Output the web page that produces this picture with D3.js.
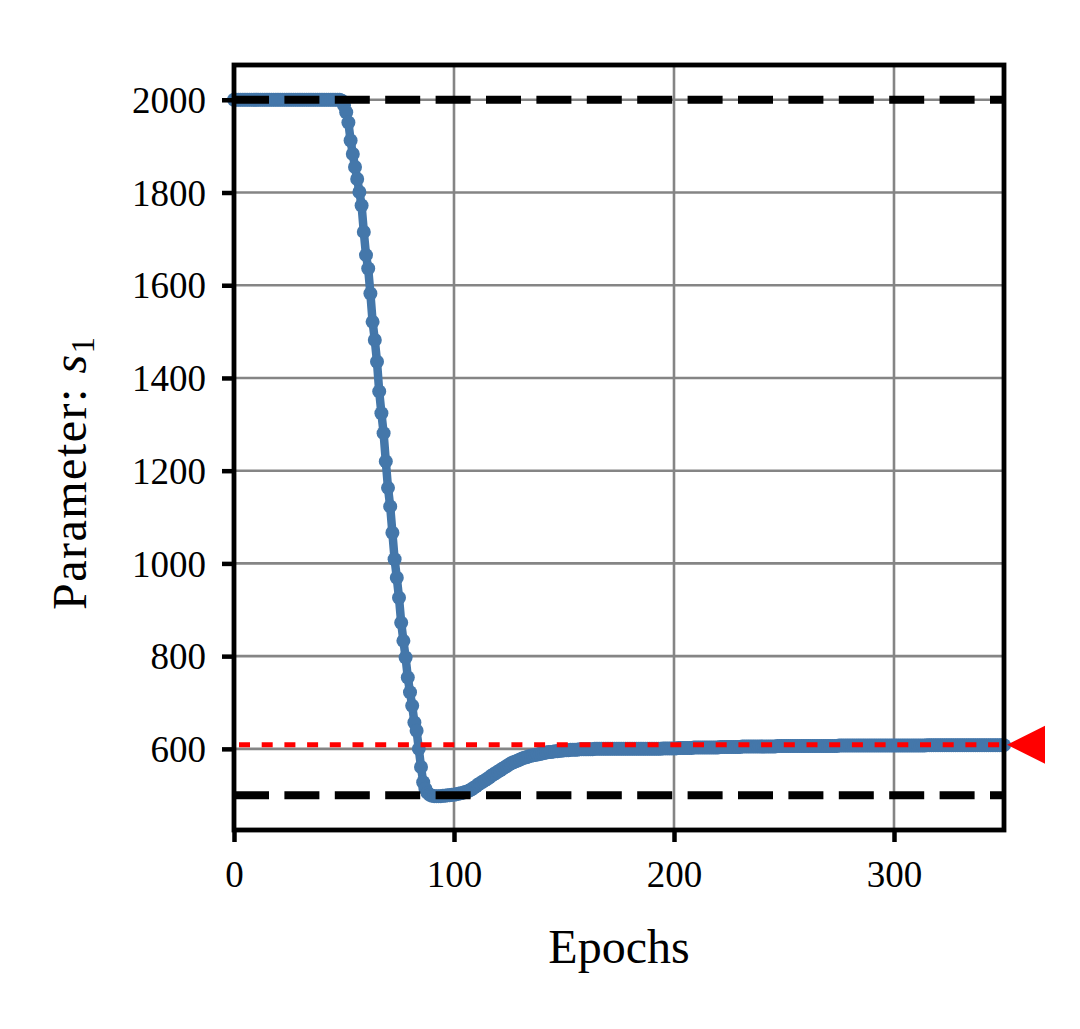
<!DOCTYPE html>
<html>
<head>
<meta charset="utf-8">
<script src="https://cdn.jsdelivr.net/npm/d3@7/dist/d3.min.js"></script>
<style>
  html, body { margin: 0; padding: 0; background: #fff; }
  svg { display: block; }
</style>
</head>
<body>
<svg id="chart" width="1080" height="1029"></svg>
<script>
// ---------------- data ----------------
// parameter s1 at each epoch 0..350
const s1Values = [
  2000,2000,2000,2000,2000,2000,2000,2000,2000,2000,
  2000,2000,2000,2000,2000,2000,2000,2000,2000,2000,
  2000,2000,2000,2000,2000,2000,2000,2000,2000,2000,
  2000,2000,2000,2000,2000,2000,2000,2000,2000,2000,
  2000,2000,2000,2000,2000,2000,2000,2000,2000,
  1998,1988,1973,1951,1912,1883,1855,1829,1801,1772,1715,
  1665,1636,1582,1521,1482,1435,1371,1324,1281,1220,
  1163,1123,1066,1009,969,926,872,833,797,754,
  722,693,657,639,600,561,528,514,505,501,
  499,498,498,498,498,499,499,500,500,501,
  501,502,503,504,505,507,508,510,513,516,
  519,523,526,529,532,535,538,542,545,548,
  551,554,557,560,563,566,569,571,573,575,
  577,579,581,582,584,585,586,587,588,589,
  590,591,592,593,593,594,595,595,596,596,
  597,597,597,598,598,598,598,599,599,599,
  599,599,599,599,600,600,600,600,600,600,
  600,600,600,600,600,600,600,600,600,600,
  600,600,600,600,600,600,600,600,600,600,
  600,600,600,600,600,601,601,601,601,601,
  601,601,602,602,602,602,602,602,602,603,
  603,603,603,603,603,603,603,603,603,603,
  603,604,604,604,604,604,604,604,604,604,
  604,605,605,605,605,605,605,605,605,605,
  605,605,605,605,605,605,605,606,606,606,
  606,606,606,606,606,606,606,606,606,606,
  606,606,606,606,606,606,606,606,606,606,
  606,606,606,606,606,607,607,607,607,607,
  607,607,607,607,607,607,607,607,607,607,
  607,607,607,607,607,607,607,607,607,607,
  607,607,607,607,607,607,607,607,607,607,
  607,607,607,607,607,608,608,608,608,608,
  608,608,608,608,608,608,608,608,608,608,
  608,608,608,608,608,608,608,608,608,608,
  608,608,608,608,608,608,608,608,608,608,608
];
const epochs = s1Values.map((_, i) => i);

const boundUpper = 2000;      // black dashed bounds
const boundLower = 500;
const targetValue = 609;      // red dotted reference
const targetMarkerEpoch = 360; // red triangle just outside the axes

const xTicks = [0, 100, 200, 300];
const yTicks = [600, 800, 1000, 1200, 1400, 1600, 1800, 2000];
const xDomain = [0, 350];
const yDomain = [425, 2075];
const xLabel = "Epochs";
const yLabelText = "Parameter: ";

// ---------------- layout ----------------
const L = 234, R = 1004, T = 65, B = 830;
const svg = d3.select("#chart");
const x = d3.scaleLinear().domain(xDomain).range([L, R]);
const y = d3.scaleLinear().domain(yDomain).range([B, T]);

const FONT = "'Liberation Serif', 'DejaVu Serif', serif";
const blue = "#4477aa";

// grid
const grid = svg.append("g");
grid.selectAll("line.gx").data(xTicks).join("line")
  .attr("x1", d => x(d)).attr("x2", d => x(d))
  .attr("y1", T).attr("y2", B)
  .attr("stroke", "#858585").attr("stroke-width", 2.6);
grid.selectAll("line.gy").data(yTicks).join("line")
  .attr("x1", L).attr("x2", R)
  .attr("y1", d => y(d)).attr("y2", d => y(d))
  .attr("stroke", "#858585").attr("stroke-width", 2.6);

// series line + markers
const pts = epochs.map((e, i) => [e, s1Values[i]]);
svg.append("path")
  .datum(pts)
  .attr("fill", "none")
  .attr("stroke", blue)
  .attr("stroke-width", 8.5)
  .attr("stroke-linejoin", "round")
  .attr("d", d3.line().x(d => x(d[0])).y(d => y(d[1])));
svg.append("g").selectAll("circle").data(pts).join("circle")
  .attr("cx", d => x(d[0])).attr("cy", d => y(d[1]))
  .attr("r", 7).attr("fill", blue);

// black dashed bounds
svg.append("g").selectAll("line").data([boundUpper, boundLower]).join("line")
  .attr("x1", x(xDomain[0])).attr("x2", x(xDomain[1]))
  .attr("y1", d => y(d)).attr("y2", d => y(d))
  .attr("stroke", "#000").attr("stroke-width", 8)
  .attr("stroke-dasharray", "35,15.4");

// red dotted target
svg.append("line")
  .attr("x1", x(xDomain[0])).attr("x2", x(xDomain[1]))
  .attr("y1", y(targetValue)).attr("y2", y(targetValue))
  .attr("stroke", "#ff0000").attr("stroke-width", 5)
  .attr("stroke-dasharray", "11,11.7")
  .attr("stroke-dashoffset", 17.7);

// axes (ticks + labels)
const xAxis = d3.axisBottom(x).tickValues(xTicks).tickSize(12).tickPadding(18)
  .tickFormat(d3.format("d"));
const yAxis = d3.axisLeft(y).tickValues(yTicks).tickSize(12).tickPadding(16)
  .tickFormat(d3.format("d"));

const gx = svg.append("g").attr("transform", `translate(0,${B})`).call(xAxis);
const gy = svg.append("g").attr("transform", `translate(${L},0)`).call(yAxis);
[gx, gy].forEach(g => {
  g.select(".domain").remove();
  g.selectAll(".tick line").attr("stroke", "#000").attr("stroke-width", 4.5);
  g.selectAll(".tick text").attr("fill", "#000")
    .style("font-family", FONT).style("font-size", "37px");
});
gy.selectAll(".tick text").attr("dy", "0.34em");
gx.selectAll(".tick text").attr("dy", "0.74em");

// frame (spines)
svg.append("rect")
  .attr("x", L).attr("y", T).attr("width", R - L).attr("height", B - T)
  .attr("fill", "none").attr("stroke", "#000").attr("stroke-width", 4.8);

// red triangle marker (outside the axes)
const tri = 19;
const tx = x(targetMarkerEpoch), ty = y(targetValue);
svg.append("path")
  .attr("d", `M${tx - tri},${ty} L${tx + tri},${ty - tri} L${tx + tri},${ty + tri} Z`)
  .attr("fill", "#ff0000");

// axis labels
svg.append("text")
  .attr("x", (L + R) / 2).attr("y", 963)
  .attr("text-anchor", "middle")
  .style("font-family", FONT).style("font-size", "48px")
  .text(xLabel);

const yl = svg.append("text")
  .attr("transform", "translate(86,610) rotate(-90)")
  .attr("text-anchor", "start")
  .style("font-family", FONT).style("font-size", "48px")
  .style("letter-spacing", "1.5px");
yl.append("tspan").text(yLabelText);
yl.append("tspan").style("font-style", "italic").text("s");
yl.append("tspan").attr("dy", 8).style("font-size", "33px").text("1");
</script>
</body>
</html>
